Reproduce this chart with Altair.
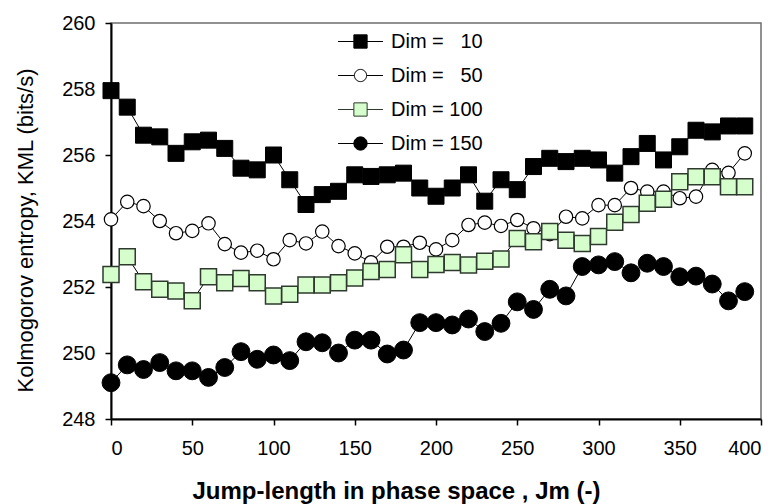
import altair as alt
import pandas as pd

# ---- data ----
jump = [0, 10, 20, 30, 40, 50, 60, 70, 80, 90, 100, 110, 120, 130, 140, 150, 160, 170, 180, 190,
        200, 210, 220, 230, 240, 250, 260, 270, 280, 290, 300, 310, 320, 330, 340, 350, 360, 370, 380, 390]

dim10 = [257.95, 257.45, 256.6, 256.55, 256.05, 256.4, 256.45, 256.2, 255.6, 255.55,
         256.0, 255.25, 254.5, 254.8, 254.9, 255.4, 255.35, 255.4, 255.45, 255.0,
         254.75, 255.0, 255.4, 254.6, 255.25, 254.95, 255.65, 255.9, 255.8, 255.9,
         255.85, 255.45, 255.95, 256.35, 255.85, 256.25, 256.75, 256.7, 256.88, 256.88]

dim50 = [254.05, 254.58, 254.45, 254.0, 253.63, 253.7, 253.93, 253.3, 253.04, 253.1,
         252.84, 253.42, 253.32, 253.68, 253.24, 253.02, 252.75, 253.22, 253.22, 253.34,
         253.14, 253.42, 253.88, 253.95, 253.85, 254.03, 253.78, 253.6, 254.13, 254.08,
         254.48, 254.48, 255.0, 254.89, 254.89, 254.69, 254.74, 255.55, 255.46, 256.05]

dim100 = [252.38, 252.92, 252.16, 251.93, 251.88, 251.58, 252.31, 252.13, 252.26, 252.13,
          251.73, 251.78, 252.06, 252.06, 252.13, 252.27, 252.47, 252.53, 252.98, 252.53,
          252.68, 252.74, 252.67, 252.78, 252.85, 253.47, 253.37, 253.68, 253.42, 253.32,
          253.53, 253.96, 254.2, 254.54, 254.66, 255.19, 255.34, 255.34, 255.04, 255.04]

dim150 = [249.1, 249.64, 249.5, 249.71, 249.46, 249.46, 249.26, 249.56, 250.04, 249.81,
          249.94, 249.77, 250.34, 250.31, 250.0, 250.39, 250.39, 249.97, 250.09, 250.92,
          250.92, 250.85, 251.03, 250.65, 250.9, 251.55, 251.32, 251.93, 251.73, 252.62,
          252.67, 252.77, 252.43, 252.72, 252.62, 252.31, 252.33, 252.09, 251.58, 251.86]

series_names = ["Dim =\u00a0\u00a0\u00a010", "Dim =\u00a0\u00a0\u00a050",
                "Dim = 100", "Dim = 150"]
series_values = [dim10, dim50, dim100, dim150]

x_ticks = [0, 50, 100, 150, 200, 250, 300, 350, 400]
y_ticks = [248, 250, 252, 254, 256, 258, 260]

# ---- styles ----
FONT = "Liberation Sans"
plot_shapes = ["square", "circle", "square", "circle"]
plot_sizes = [256, 180, 256, 320]
fills = ["#000000", "#ffffff", "#d6fdcc", "#000000"]
strokes = ["#000000", "#000000", "#2e3a2e", "#000000"]
stroke_w = [1, 1.2, 1.5, 1]

legend_paths = [
    "M-1.32,0H1.32M-0.39,-0.39H0.39V0.39H-0.39Z",
    "M-1.32,0H-0.36M0.36,0H1.32M-0.36,0A0.36,0.36 0 1,0 0.36,0A0.36,0.36 0 1,0 -0.36,0Z",
    "M-1.32,0H-0.39M0.39,0H1.32M-0.39,-0.39H0.39V0.39H-0.39Z",
    "M-1.32,0H1.32M-0.39,0A0.39,0.39 0 1,0 0.39,0A0.39,0.39 0 1,0 -0.39,0Z",
]

rows = []
for name, vals in zip(series_names, series_values):
    for xv, yv in zip(jump, vals):
        rows.append({"series": name, "jump": xv, "kml": yv})
df = pd.DataFrame(rows)

x_enc = alt.X("jump:Q", scale=alt.Scale(domain=[0, 400], nice=False, zero=False),
              axis=alt.Axis(values=x_ticks, title="Jump-length in phase space , Jm (-)",
                            titleFontWeight="bold", titleFontSize=24,
                            titleX=285, titleY=79, titleAlign="center",
                            titleBaseline="alphabetic", titleAnchor="start",
                            labelPadding=13, grid=False))
y_enc = alt.Y("kml:Q", scale=alt.Scale(domain=[248, 260], nice=False, zero=False),
              axis=alt.Axis(values=y_ticks, title="Kolmogorov entropy, KML (bits/s)",
                            titleFontWeight="normal", titleFontSize=22,
                            titleX=-86, titleY=207, titleAlign="center", titleAngle=270,
                            titleBaseline="middle", titleAnchor="start",
                            labelPadding=10, grid=False))

layers = []
for i, name in enumerate(series_names):
    sub = alt.Chart(df).transform_filter(alt.datum.series == name)
    line = sub.mark_line(color="black", strokeWidth=1).encode(x=x_enc, y=y_enc)
    pts = sub.mark_point(shape=plot_shapes[i], size=plot_sizes[i], filled=True,
                         fill=fills[i], stroke=strokes[i], strokeWidth=stroke_w[i],
                         opacity=1).encode(x=x_enc, y=y_enc)
    layers += [line, pts]

legend = alt.Legend(orient="none", legendX=232, legendY=1, title=None, padding=0,
                    rowPadding=6, symbolSize=1156, symbolStrokeWidth=1,
                    labelFontSize=20, labelFont=FONT, labelColor="black", labelOffset=13)

legend_layer = alt.Chart(df).transform_filter("datum.jump < -1000").mark_point(
    filled=True, opacity=1).encode(
    x=x_enc, y=y_enc,
    shape=alt.Shape("series:N", scale=alt.Scale(domain=series_names, range=legend_paths), legend=legend),
    fill=alt.Fill("series:N", scale=alt.Scale(domain=series_names, range=fills), legend=legend),
    stroke=alt.Stroke("series:N", scale=alt.Scale(domain=series_names, range=strokes), legend=legend),
)

chart = alt.layer(*layers, legend_layer).properties(
    width=650, height=396,
    background="white",
    autosize=alt.AutoSizeParams(type="none"),
    padding={"left": 103, "top": 15, "right": 9, "bottom": 85},
).configure_view(
    stroke="#6e6e6e", strokeWidth=1.5
).configure_axis(
    labelFont=FONT, titleFont=FONT, labelFontSize=20, labelColor="black", titleColor="black",
    domainColor="black", domainWidth=2, tickColor="black", tickWidth=1.5, tickSize=6,
)

chart.save("out.html", embed_options={"renderer": "svg", "actions": False})
